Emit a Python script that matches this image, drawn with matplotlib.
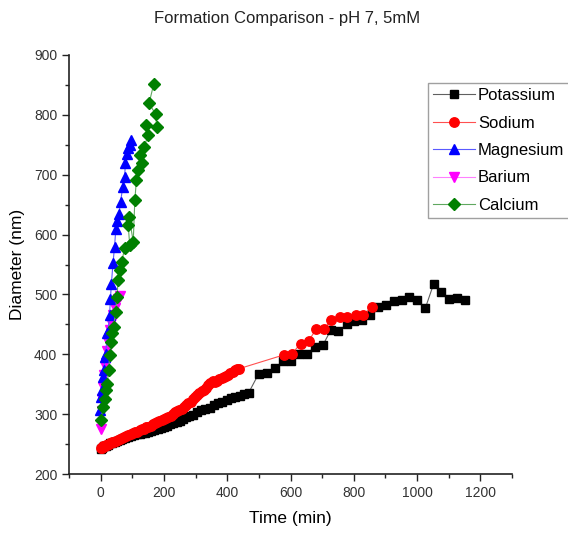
import matplotlib
matplotlib.use("Agg")
import matplotlib.pyplot as plt
from matplotlib.ticker import MultipleLocator

plt.rcParams['font.family'] = ['Liberation Sans', 'DejaVu Sans']

title = "Formation Comparison - pH 7, 5mM"
xlabel = "Time (min)"
ylabel = "Diameter (nm)"

# Potassium
k_t = [0, 5, 10, 16, 22, 29, 36, 44, 52, 60, 69, 78, 87, 96, 105, 114, 123, 132, 141, 150,
       160, 170, 180, 190, 200, 210, 220, 230, 240, 250, 260, 270, 280, 292, 305, 318, 331,
       345, 358, 372, 385, 399, 412, 425, 440, 454, 468,
       499, 526, 552, 577, 603, 628, 653, 678, 703, 727, 751, 777, 801, 825, 852, 877, 902,
       926, 951, 976, 1000, 1026, 1052, 1076, 1100, 1126, 1150]
k_d = [242, 244, 246, 247, 249, 251, 252, 254, 255, 257, 259, 260, 262, 263, 265, 266, 267,
       268, 269, 270, 272, 274, 275, 277, 279, 281, 283, 285, 287, 289, 292, 295, 297, 299,
       304, 307, 309, 311, 315, 318, 321, 324, 327, 329, 331, 333, 336,
       367, 368, 377, 388, 388, 400, 401, 413, 416, 440, 439, 450, 455, 457, 465, 479, 483,
       489, 490, 496, 490, 477, 517, 504, 492, 494, 490]

# Sodium
na_t = [0, 3, 6, 9, 13, 17, 21, 26, 31, 36, 42, 48, 54, 60, 67, 74, 81, 88, 95, 102, 109,
        116, 123, 130, 137, 144, 151, 158, 165, 172, 179, 186, 193, 200, 207, 214, 221, 228,
        235, 242, 249, 256, 263, 270, 277, 284, 291, 298, 305, 312, 319, 326, 333, 340, 347,
        354, 361, 368, 375, 382, 389, 396, 403, 410, 417, 424, 431, 438,
        579, 605, 632, 658, 681, 706, 729, 756, 780, 806, 830, 856]
na_d = [243, 244, 245, 246, 247, 248, 249, 250, 252, 253, 254, 255, 257, 258, 260, 262, 263,
        265, 266, 268, 270, 271, 273, 275, 276, 278, 279, 281, 283, 285, 287, 288, 290, 292,
        294, 296, 297, 300, 303, 305, 307, 309, 312, 315, 318, 321, 325, 329, 332, 335, 338,
        341, 344, 348, 352, 355, 353, 356, 358, 360, 362, 363, 366, 368, 371, 374, 376, 376,
        399, 401, 418, 423, 442, 442, 458, 463, 463, 465, 465, 479]

# Magnesium
mg_t = [-1, 2, 4, 7, 11, 13, 16, 21, 23, 28, 31, 34, 39, 44, 48, 53, 58, 63, 70, 76, 78, 84,
        87, 92, 97]
mg_d = [307, 329, 340, 362, 374, 396, 401, 435, 437, 465, 493, 518, 552, 580, 610, 622, 635,
        655, 680, 697, 719, 735, 744, 750, 758]

# Barium
ba_t = [0, 3, 5, 8, 11, 15, 19, 23, 28, 33, 38, 44, 50, 55, 60]
ba_d = [276, 305, 325, 345, 365, 380, 405, 420, 440, 452, 466, 478, 486, 492, 498]

# Calcium
ca_t = [2, 7, 13, 18, 21, 25, 29, 34, 36, 41, 47, 52, 55, 60, 66, 76, 92, 87, 90, 103, 108,
        113, 118, 131, 124, 137, 150, 142, 177, 174, 153, 168]
ca_d = [290, 312, 326, 340, 351, 374, 399, 421, 435, 446, 471, 496, 524, 540, 554, 577, 582,
        616, 630, 588, 657, 691, 708, 719, 733, 746, 766, 783, 780, 801, 819, 852]

W, H = 568, 537
fig = plt.figure(figsize=(W / 100, H / 100), dpi=100)
ax = fig.add_axes([69 / W, 1 - 474 / H, (512 - 69) / W, (474 - 55) / H])

ms = 6.3
ax.plot(k_t, k_d, color='#606060', lw=0.8, marker='s', ms=ms, mfc='black', mec='black',
        label='Potassium', zorder=2)
ax.plot(na_t, na_d, color='#ff5050', lw=0.8, marker='o', ms=ms + 0.5, mfc='red', mec='red',
        label='Sodium', zorder=3)
ax.plot(mg_t, mg_d, color='#5a5aff', lw=0.8, marker='^', ms=ms + 0.5, mfc='blue', mec='blue',
        label='Magnesium', zorder=4)
ax.plot(ba_t, ba_d, color='#ff80ff', lw=0.8, marker='v', ms=ms + 0.5, mfc='magenta',
        mec='magenta', label='Barium', zorder=3.5)
ax.plot(ca_t, ca_d, color='#60a860', lw=0.8, marker='D', ms=ms, mfc='green', mec='green',
        label='Calcium', zorder=5)

ax.set_xlim(-100, 1300)
ax.set_ylim(200, 900)
ax.xaxis.set_major_locator(MultipleLocator(200))
ax.xaxis.set_minor_locator(MultipleLocator(100))
ax.yaxis.set_major_locator(MultipleLocator(100))
ax.yaxis.set_minor_locator(MultipleLocator(50))
ax.tick_params(which='major', direction='out', length=5, width=1, labelsize=10,
               colors='#222222', labelcolor='#333333')
ax.tick_params(which='minor', direction='out', length=3, width=1, colors='#222222')
for s in ['top', 'right']:
    ax.spines[s].set_visible(False)
for s in ['left', 'bottom']:
    ax.spines[s].set_linewidth(1.2)
    ax.spines[s].set_color('#222222')

ax.set_xlabel(xlabel, fontsize=12.5, labelpad=8)
ax.set_ylabel(ylabel, fontsize=12.5, labelpad=6)
fig.text(287 / W, 1 - 19 / H, title, ha='center', va='center', fontsize=12, color='#222222')

leg = fig.legend(loc='upper left', bbox_to_anchor=(428 / W, 1 - 83 / H), fontsize=12,
                 frameon=True, fancybox=False, edgecolor='#888888', handlelength=2.5,
                 handletextpad=0.2, labelspacing=0.75, borderpad=0.3, borderaxespad=0)
leg.get_frame().set_linewidth(1.0)

fig.savefig('out.png', dpi=100)
